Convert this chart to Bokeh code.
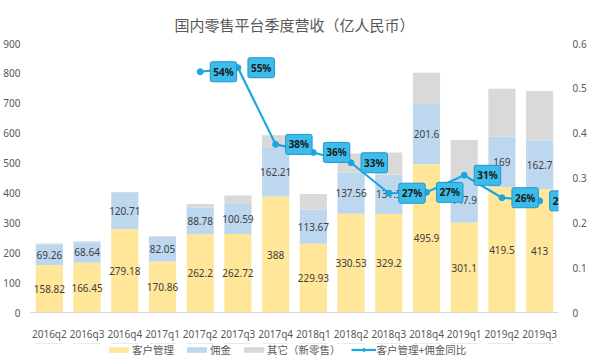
from bokeh.plotting import figure
from bokeh.layouts import column
from bokeh.models import (FactorRange, Range1d, LinearAxis, FixedTicker, NumeralTickFormatter,
                          Legend, LegendItem, ColumnDataSource)
from bokeh.core.properties import value
from bokeh.embed import file_html
from bokeh.resources import INLINE

quarters = ["2016q2", "2016q3", "2016q4", "2017q1", "2017q2", "2017q3", "2017q4",
            "2018q1", "2018q2", "2018q3", "2018q4", "2019q1", "2019q2", "2019q3"]
customer_mgmt = [158.82, 166.45, 279.18, 170.86, 262.2, 262.72, 388, 229.93, 330.53, 329.2, 495.9, 301.1, 419.5, 413]
commission = [69.26, 68.64, 120.71, 82.05, 88.78, 100.59, 162.21, 113.67, 137.56, 131.5, 201.6, 147.9, 169, 162.7]
other_new_retail = [3, 3, 3, 2, 12, 28, 43, 53, 64, 75, 105, 128, 160, 165]
yoy_quarters = ["2017q2", "2017q3", "2017q4", "2018q1", "2018q2", "2018q3", "2018q4", "2019q1", "2019q2", "2019q3"]
yoy_growth = [0.537, 0.546, 0.375, 0.357, 0.334, 0.266, 0.268, 0.306, 0.256, 0.249]
yoy_labels = ["54%", "55%", "38%", "36%", "33%", "27%", "27%", "31%", "26%", "25%"]
left_ticks = [0, 100, 200, 300, 400, 500, 600, 700, 800, 900]
right_ticks = [0, 0.1, 0.2, 0.3, 0.4, 0.5, 0.6]
legend_labels = ["客户管理", "佣金", "其它（新零售）", "客户管理+佣金同比"]

YELLOW = "#FFE699"
BLUE = "#BDD7EE"
GRAY = "#D9D9D9"
LINE = "#1AA7E1"
TXT = "#595959"
NUM_FONT = "Noto Sans"
CJK = "Noto Sans CJK SC"

p = figure(width=589, height=343, x_range=FactorRange(*quarters), y_range=Range1d(0, 900),
           output_backend="svg", toolbar_location=None,
           min_border_left=18, min_border_right=18, min_border_top=43, min_border_bottom=24)
p.extra_y_ranges = {"pct": Range1d(0, 0.6)}
p.outline_line_color = None
p.xgrid.grid_line_color = None
p.ygrid.grid_line_color = None
p.background_fill_color = "white"
p.border_fill_color = "white"

p.title.text = "国内零售平台季度营收（亿人民币）"
p.title.align = "center"
p.title.text_font = CJK
p.title.text_font_size = "15px"
p.title.text_font_style = "normal"
p.title.text_color = TXT
p.title.offset = 0
p.title.standoff = 17

src = ColumnDataSource(dict(q=quarters, cm=customer_mgmt, co=commission, ot=other_new_retail))
bars = p.vbar_stack(["cm", "co", "ot"], x="q", width=0.72, source=src,
                    color=[YELLOW, BLUE, GRAY], line_color=None)

# data labels
cm_mid = [v / 2 for v in customer_mgmt]
co_mid = [a + b / 2 for a, b in zip(customer_mgmt, commission)]
lab_src = ColumnDataSource(dict(q=quarters, y1=cm_mid, y2=co_mid,
                                t1=[f"{v:g}" for v in customer_mgmt],
                                t2=[f"{v:g}" for v in commission]))
for ycol, tcol in (("y1", "t1"), ("y2", "t2")):
    p.text(x="q", y=ycol, text=tcol, source=lab_src, text_align="center", text_baseline="middle",
           text_font=value(NUM_FONT), text_font_size="10px", text_color="#404040")

# line on right axis
line_src = ColumnDataSource(dict(q=yoy_quarters, v=yoy_growth, t=yoy_labels))
p.line(x="q", y="v", source=line_src, y_range_name="pct", line_color=LINE, line_width=2.2)
p.scatter(x="q", y="v", source=line_src, y_range_name="pct", size=6, fill_color=LINE,
          line_color=LINE)
p.text(x="q", y="v", text="t", source=line_src, y_range_name="pct", x_offset=10, y_offset=0,
       text_align="left", text_baseline="middle", text_font=value(NUM_FONT),
       text_font_size="10px", text_font_style="bold", text_color="#1a1a1a",
       background_fill_color="#3CBCEB", border_line_color="#1E96CF", border_line_width=1,
       padding=3, border_radius=2)

# axes
xa = p.xaxis[0]
xa.axis_line_color = GRAY
xa.major_tick_line_color = None
xa.minor_tick_line_color = None
xa.major_label_text_font = NUM_FONT
xa.major_label_text_font_size = "10px"
xa.major_label_text_color = TXT
xa.major_label_standoff = 8

ya = p.yaxis[0]
ya.ticker = FixedTicker(ticks=left_ticks)
ya.axis_line_color = None
ya.major_tick_line_color = None
ya.minor_tick_line_color = None
ya.major_label_text_font = NUM_FONT
ya.major_label_text_font_size = "10px"
ya.major_label_text_color = TXT
ya.major_label_standoff = 4

ra = LinearAxis(y_range_name="pct", ticker=FixedTicker(ticks=right_ticks),
                formatter=NumeralTickFormatter(format="0.[0]"))
ra.axis_line_color = None
ra.major_tick_line_color = None
ra.minor_tick_line_color = None
ra.major_label_text_font = NUM_FONT
ra.major_label_text_font_size = "10px"
ra.major_label_text_color = TXT
ra.major_label_standoff = 8
p.add_layout(ra, "right")

# legend strip: same series drawn outside its visible range, only the legend shows
lg = figure(width=589, height=15, x_range=FactorRange(*quarters), y_range=Range1d(-2, -1),
            output_backend="svg", toolbar_location=None, x_axis_location=None, y_axis_location=None,
            min_border_left=0, min_border_right=0, min_border_top=0, min_border_bottom=0)
lg.extra_y_ranges = {"pct": Range1d(-2, -1)}
lg.outline_line_color = None
lg.xgrid.grid_line_color = None
lg.ygrid.grid_line_color = None
lbars = lg.vbar_stack(["cm", "co", "ot"], x="q", width=0.72, source=src,
                      color=[YELLOW, BLUE, GRAY], line_color=None)
lln = lg.line(x="q", y="v", source=line_src, y_range_name="pct", line_color=LINE, line_width=2.2)
lsc = lg.scatter(x="q", y="v", source=line_src, y_range_name="pct", size=6, fill_color=LINE,
                 line_color=LINE)

legend = Legend(items=[
    LegendItem(label=legend_labels[0], renderers=[lbars[0]]),
    LegendItem(label=legend_labels[1], renderers=[lbars[1]]),
    LegendItem(label=legend_labels[2], renderers=[lbars[2]]),
    LegendItem(label=legend_labels[3], renderers=[lln, lsc]),
], orientation="horizontal", location=(76, 1))
legend.label_text_font = CJK
legend.label_text_font_size = "10.5px"
legend.label_text_color = TXT
legend.label_height = 14
legend.glyph_width = 25
legend.glyph_height = 7
legend.label_standoff = 1
legend.spacing = 10
legend.padding = 0
legend.margin = 0
legend.border_line_color = None
legend.background_fill_alpha = 0
lg.add_layout(legend, "center")

layout = column(p, lg, spacing=0)
open("out.html", "w").write(file_html(layout, INLINE))
